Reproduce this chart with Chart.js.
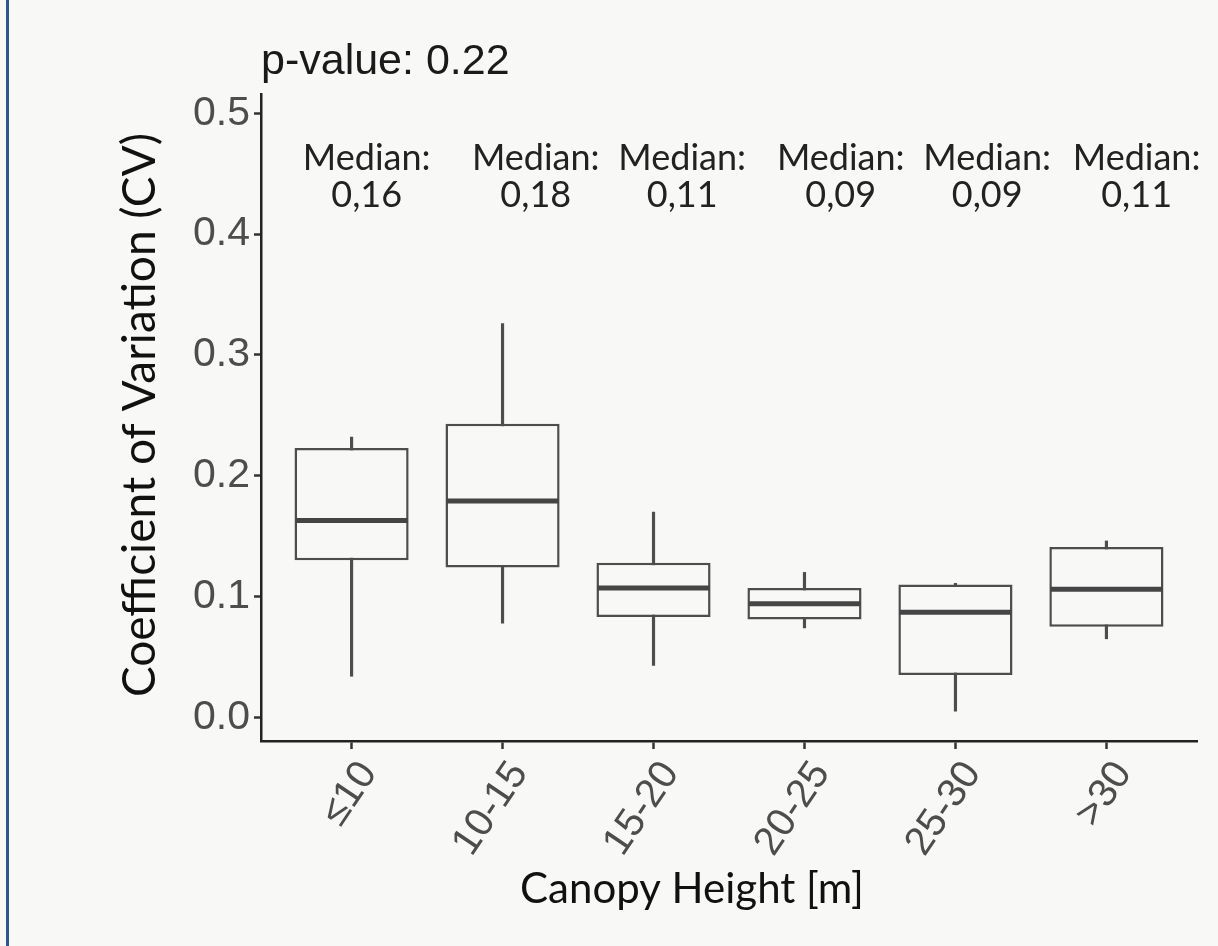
<!DOCTYPE html>
<html lang="en">
<head>
    <meta charset="UTF-8">
    <title>CV by Canopy Height</title>
    <script src="https://cdn.jsdelivr.net/npm/chart.js"></script>
    <style>
        html, body { margin: 0; padding: 0; background: #f8f9f7; }
        .frame { position: relative; width: 1218px; height: 946px; }
        .frame::before {
            content: ''; position: absolute; left: 6px; top: 0; bottom: 0;
            width: 3px; background: #2f5597;
        }
        canvas { display: block; }
    </style>
</head>
<body>
    <div class="frame">
        <canvas id="cvChart" width="1218" height="946"></canvas>
    </div>
    <script>
        const categories = ['≤10', '10-15', '15-20', '20-25', '25-30', '>30'];
        const whiskerLow  = [0.034, 0.078, 0.043, 0.074, 0.005, 0.065];
        const boxLow      = [0.130, 0.124, 0.083, 0.081, 0.035, 0.075];
        const medians     = [0.163, 0.179, 0.107, 0.094, 0.087, 0.106];
        const boxHigh     = [0.223, 0.243, 0.128, 0.107, 0.110, 0.141];
        const whiskerHigh = [0.232, 0.326, 0.170, 0.120, 0.111, 0.146];
        const yTicks = [0, 0.1, 0.2, 0.3, 0.4, 0.5];
        const pValue = '0.22';

        const ink = '#4d4d4d';
        const bg = '#f8f9f7';

        // text annotations above the boxes, nudged a little right of each box
        const medianLabelShift = [0.10, 0.22, 0.19, 0.24, 0.21, 0.20];

        const xs = categories.map((c, i) => i + 1);

        const background = {
            id: 'background',
            beforeDraw(chart) {
                const ctx = chart.ctx;
                ctx.save();
                ctx.fillStyle = bg;
                ctx.fillRect(0, 0, chart.width, chart.height);
                ctx.restore();
            }
        };

        const annotations = {
            id: 'annotations',
            afterDatasetsDraw(chart) {
                const ctx = chart.ctx;
                const x = chart.scales.x, y = chart.scales.y;
                ctx.save();
                ctx.textBaseline = 'middle';

                // p-value heading
                ctx.fillStyle = '#1a1a1a';
                ctx.font = '43px "Liberation Sans"';
                ctx.textAlign = 'left';
                ctx.fillText('p-value: ' + pValue, chart.chartArea.left, 62);

                ctx.font = '36px Lato';
                ctx.textAlign = 'center';
                ctx.fillStyle = '#222';
                medians.forEach((m, i) => {
                    const px = x.getPixelForValue(xs[i] + medianLabelShift[i]);
                    const py = y.getPixelForValue(0.463);
                    ctx.fillText('Median:', px, py);
                    ctx.fillText(m.toFixed(2).replace('.', ','), px, py + 37);
                });

                // axis titles
                ctx.fillStyle = '#111';
                ctx.font = '42px Lato';
                ctx.fillText('Canopy Height [m]', 692, 889);
                ctx.translate(140, 415);
                ctx.rotate(-Math.PI / 2);
                ctx.font = '46px Lato';
                ctx.fillText('Coefficient of Variation (CV)', 0, 0);
                ctx.restore();
            }
        };

        new Chart(document.getElementById('cvChart'), {
            type: 'bar',
            data: {
                datasets: [
                    {
                        type: 'line',
                        data: xs.map((v, i) => ({ x: v, y: medians[i] })),
                        showLine: false,
                        pointStyle: 'line',
                        pointRadius: 56,
                        pointBorderWidth: 5,
                        pointBorderColor: '#454545',
                        order: 1
                    },
                    {
                        data: xs.map((v, i) => ({ x: v, y: [boxLow[i], boxHigh[i]] })),
                        backgroundColor: bg,
                        borderColor: ink,
                        borderWidth: 2.5,
                        borderSkipped: false,
                        categoryPercentage: 1,
                        barPercentage: 0.756,
                        order: 2
                    },
                    {
                        data: xs.map((v, i) => ({ x: v, y: [whiskerLow[i], whiskerHigh[i]] })),
                        backgroundColor: ink,
                        borderWidth: 0,
                        barThickness: 2.5,
                        order: 3
                    }
                ]
            },
            options: {
                responsive: false,
                animation: false,
                events: [],
                grouped: false,
                layout: { autoPadding: false, padding: { top: 94, right: 21, left: 0, bottom: 0 } },
                plugins: { legend: { display: false }, tooltip: { enabled: false } },
                scales: {
                    x: {
                        type: 'linear',
                        offset: false,
                        min: 0.4,
                        max: 6.6,
                        afterBuildTicks: s => { s.ticks = xs.map(v => ({ value: v })); },
                        afterFit: s => { s.height = 205; s.paddingLeft = 0; s.paddingRight = 0; },
                        ticks: {
                            autoSkip: false,
                            minRotation: 56,
                            maxRotation: 56,
                            padding: 4,
                            labelOffset: 17,
                            color: ink,
                            font: { family: 'Liberation Sans', size: 40 },
                            callback: v => categories[v - 1]
                        },
                        grid: { offset: false, drawOnChartArea: false, tickLength: 8, tickWidth: 2.5, color: '#333' },
                        border: { color: '#222', width: 2.5 }
                    },
                    y: {
                        min: -0.0196,
                        max: 0.516,
                        afterBuildTicks: s => { s.ticks = yTicks.map(v => ({ value: v })); },
                        afterFit: s => { s.width = 261; },
                        ticks: {
                            padding: 4,
                            color: ink,
                            font: { family: 'Liberation Sans', size: 41 },
                            callback: v => v.toFixed(1)
                        },
                        grid: { drawOnChartArea: false, tickLength: 7, tickWidth: 2.5, color: '#333' },
                        border: { color: '#222', width: 2.5 }
                    }
                }
            },
            plugins: [background, annotations]
        });
    </script>
</body>
</html>
